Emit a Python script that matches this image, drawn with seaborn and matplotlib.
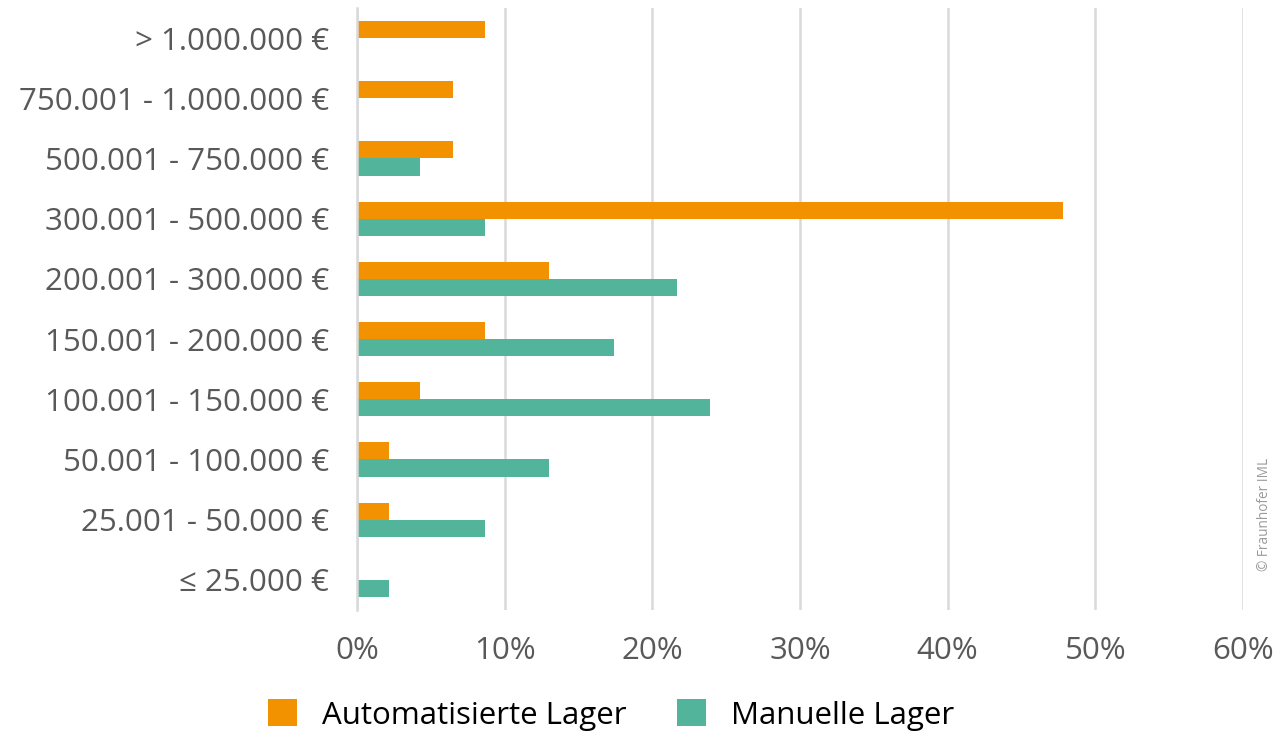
import matplotlib
matplotlib.use("Agg")
import matplotlib.pyplot as plt
import seaborn as sns
import pandas as pd
from matplotlib.ticker import FuncFormatter
from matplotlib.patches import Patch

# Investment classes (top to bottom)
categories = [
    "> 1.000.000 €",
    "750.001 - 1.000.000 €",
    "500.001 - 750.000 €",
    "300.001 - 500.000 €",
    "200.001 - 300.000 €",
    "150.001 - 200.000 €",
    "100.001 - 150.000 €",
    "50.001 - 100.000 €",
    "25.001 - 50.000 €",
    "≤ 25.000 €",
]
series_names = ["Automatisierte Lager", "Manuelle Lager"]
automated = [8.7, 6.5, 6.5, 47.8, 13.0, 8.7, 4.3, 2.2, 2.2, 0.0]
manual = [0.0, 0.0, 4.3, 8.7, 21.7, 17.4, 23.9, 13.0, 8.7, 2.2]
x_ticks = [0, 10, 20, 30, 40, 50, 60]
colors = ["#F39200", "#52B49A"]

df = pd.DataFrame({
    "Klasse": categories * 2,
    "Lager": [series_names[0]] * len(categories) + [series_names[1]] * len(categories),
    "Anteil": automated + manual,
})

sns.set_theme(style="white")
plt.rcParams["font.family"] = ["Open Sans", "DejaVu Sans"]

fig = plt.figure(figsize=(12.76, 7.34), dpi=100)
ax = fig.add_axes([357 / 1276, 1 - 610 / 734, (1243 - 357) / 1276, (610 - 8) / 734])

sns.barplot(
    data=df, y="Klasse", x="Anteil", hue="Lager",
    order=categories, hue_order=series_names,
    palette=colors, orient="h", width=0.57, dodge=True,
    saturation=1, linewidth=0, ax=ax, legend=False,
)

ax.set_xlim(0, 60)
ax.set_ylim(len(categories) - 0.5, -0.5)
ax.set_xticks(x_ticks)
ax.xaxis.set_major_formatter(FuncFormatter(lambda v, p: f"{v:.0f}%"))
ax.set_xlabel("")
ax.set_ylabel("")
ax.grid(axis="x", color="#D9D9D9", linewidth=1.8)
ax.grid(axis="y", visible=False)
ax.set_axisbelow(True)
for side in ["top", "right", "bottom"]:
    ax.spines[side].set_visible(False)
ax.spines["left"].set_color("#D9D9D9")
ax.spines["left"].set_linewidth(1.8)
ax.tick_params(axis="x", length=0, pad=19, labelsize=22.5, labelcolor="#595959")
ax.tick_params(axis="y", length=0, pad=20, labelsize=22.5, labelcolor="#595959")

handles = [Patch(facecolor=c, edgecolor="none") for c in colors]
leg = fig.legend(
    handles, series_names, loc="center", bbox_to_anchor=(611 / 1276, 1 - 715 / 734),
    ncol=2, frameon=False, fontsize=22.5, handlelength=0.95, handleheight=0.95,
    handletextpad=0.8, columnspacing=1.6,
)
for t in leg.get_texts():
    t.set_color("#000000")

fig.text(1265 / 1276, 1 - 514 / 734, "© Fraunhofer IML", rotation=90,
         ha="center", va="center", fontsize=9.8, color="#9A9A9A")

fig.savefig("out.png", dpi=100)
